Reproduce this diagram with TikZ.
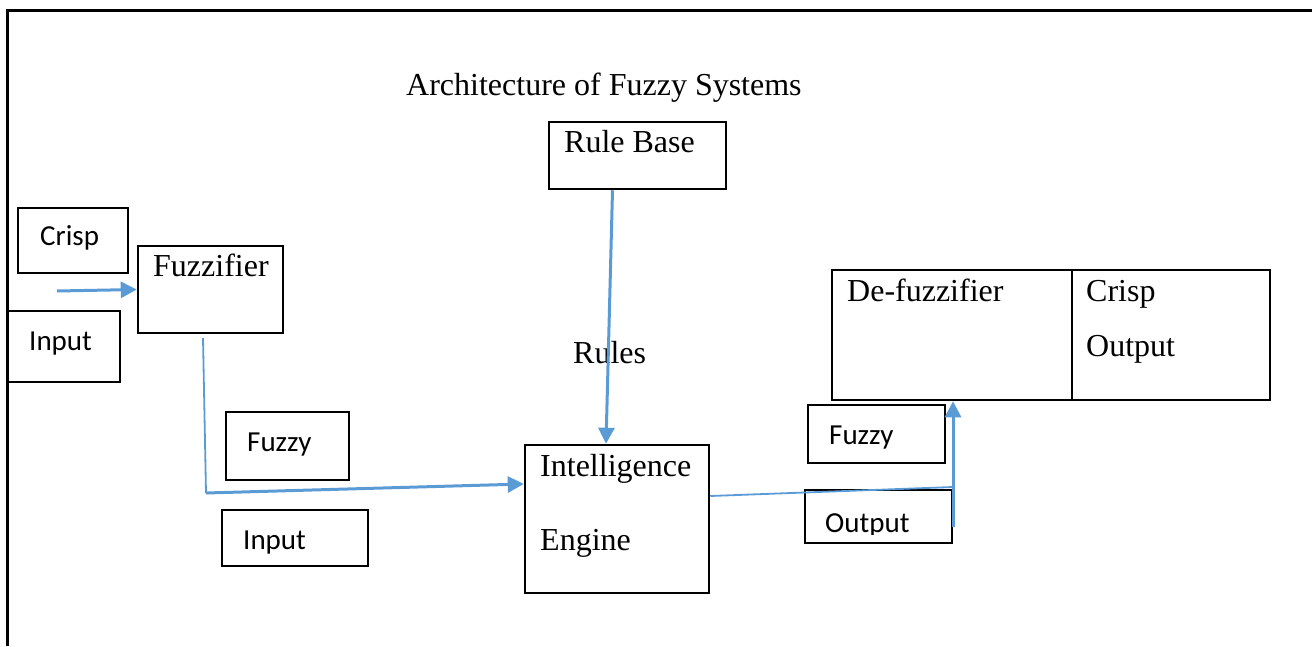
\documentclass[tikz,border=0pt]{standalone}
\usepackage{fontspec}
\setmainfont{Liberation Serif}
\newfontfamily\calib{Carlito}
\usetikzlibrary{arrows.meta,calc}
\definecolor{wireblue}{HTML}{5B9BD5}
\tikzset{
  blk/.style={draw=black, line width=2.5pt, rectangle, inner sep=0pt},
  serif/.style={anchor=base west, inner sep=0pt, font=\fontsize{32}{38}\selectfont},
  sans/.style={anchor=base west, inner sep=0pt, font=\calib\fontsize{29}{34}\selectfont},
  wire/.style={draw=wireblue, line width=1.8pt},
  arr/.style={wire, -{Triangle[length=16pt,width=16pt]}},
}
\begin{document}
\begin{tikzpicture}[x=1pt,y=-1pt]
\useasboundingbox (0,0) rectangle (1312,646);
% page frame
\draw[line width=3pt] (7,646) -- (7,10) -- (1312,10);

% title
\node[serif] (title) at (406,95) {Architecture of Fuzzy Systems};

% boxes
\node[blk, minimum width=110pt, minimum height=65pt] (crispbox) at (73,240.5) {};
\node[blk, minimum width=112pt, minimum height=71pt] (inputbox) at (64,346.5) {};
\node[blk, minimum width=145pt, minimum height=87pt] (fuzz) at (210.5,289.5) {};
\node[blk, minimum width=177pt, minimum height=67pt] (rule) at (637.5,155.5) {};
\node[blk, minimum width=123pt, minimum height=68pt] (fuzzybox) at (287.5,446) {};
\node[blk, minimum width=146pt, minimum height=56pt] (finputbox) at (295,538) {};
\node[blk, minimum width=184pt, minimum height=148pt] (intel) at (617,519) {};
\node[blk, minimum width=240pt, minimum height=130pt] (defz) at (952,335) {};
\node[blk, minimum width=198pt, minimum height=130pt] (crispout) at (1171,335) {};
\node[blk, minimum width=137pt, minimum height=58pt] (ofuzzybox) at (876.5,434) {};
\node[blk, minimum width=147pt, minimum height=53pt] (ooutbox) at (878.5,516.5) {};

% labels
\node[serif] (tRule) at (564,152) {Rule Base};
\node[sans] (tCrisp) at (40,245) {Crisp};
\node[sans] (tInput) at (29,350) {Input};
\node[serif] (tFuzz) at (153,276) {Fuzzifier};
\node[serif] (tRules) at (573,363) {Rules};
\node[sans] (tFuzzy) at (247,451) {Fuzzy};
\node[sans] (tFInput) at (243,549) {Input};
\node[serif] (tIntel) at (540,476) {Intelligence};
\node[serif] (tEngine) at (540,550) {Engine};
\node[serif] (tDefz) at (847,301) {De-fuzzifier};
\node[serif] (tCrispO) at (1086,301) {Crisp};
\node[serif] (tOutO) at (1086,356) {Output};
\node[sans] (tOFuzzy) at (829,444) {Fuzzy};
\begin{scope}
  \clip (805,480) rectangle (952,534);
  \node[sans] (tOOut) at (825,532) {Output};
\end{scope}

% connectors
\coordinate (inA) at (57,291);
\draw[arr, line width=3pt] (inA) -- (fuzz.west);

\coordinate (fz1) at (203,338);
\coordinate (fz2) at (206,493);
\draw[wire] (fz1) -- (fz2);
\draw[arr, line width=3pt] (fz2) -- ($(intel.west)+(0,-35)$);

\draw[arr, line width=3pt] ($(rule.south)+(-25,0)$) -- ($(intel.north)+(-11,0)$);

\coordinate (ie1) at ($(intel.east)+(0,-23)$);
\coordinate (ie2) at (953,487);
\coordinate (ie3) at (953,527);
\draw[wire] (ie1) -- (ie2);
\draw[arr, line width=3pt] (ie3) -- (defz.south -| ie3);
\end{tikzpicture}
\end{document}
